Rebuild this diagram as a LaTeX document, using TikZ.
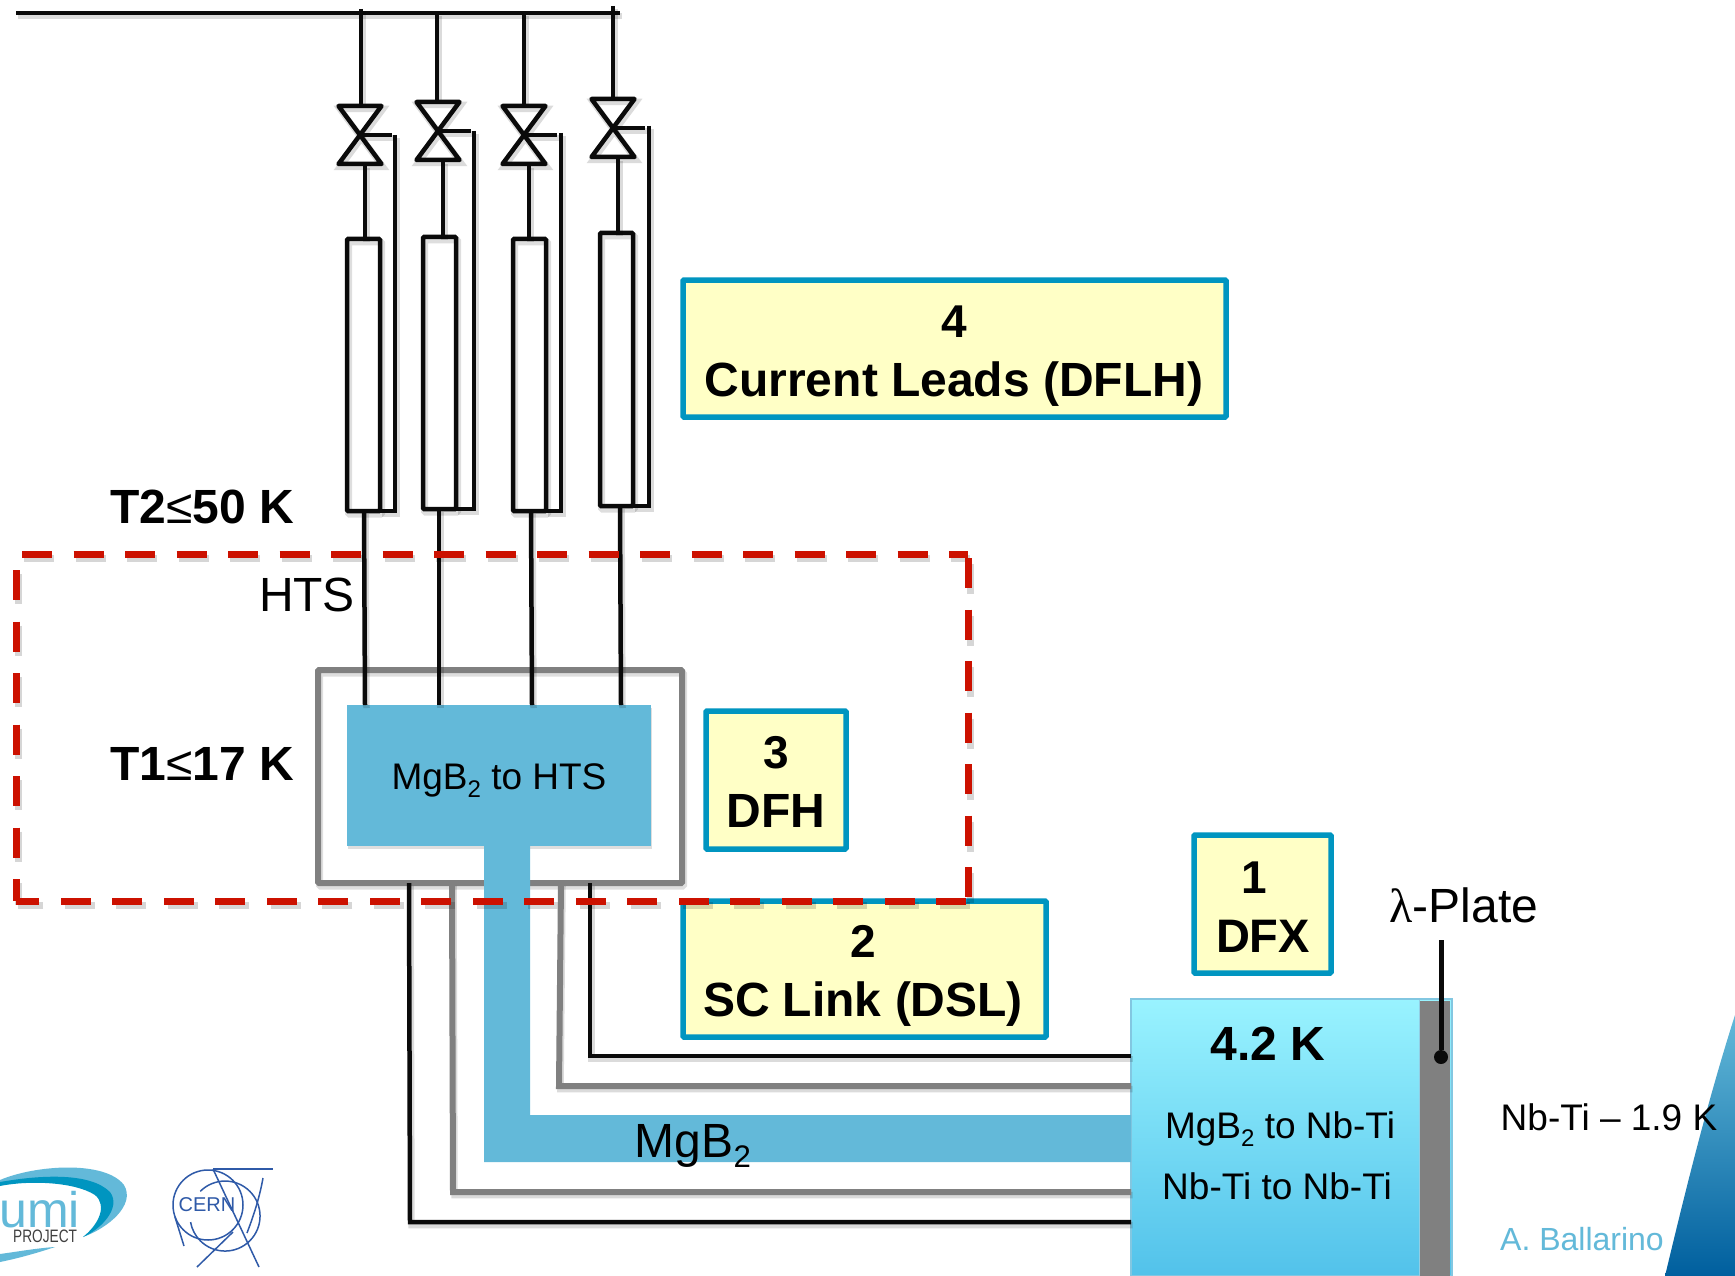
\documentclass[tikz,border=0pt]{standalone}
\usepackage{fontspec}
\usetikzlibrary{calc}
\setmainfont{Liberation Sans}
\newfontfamily\serifsym{Liberation Serif}
\definecolor{wire}{HTML}{0A0A0A}
\definecolor{greyw}{HTML}{808080}
\definecolor{tagblue}{HTML}{0095C0}
\definecolor{paleyellow}{HTML}{FFFFC6}
\definecolor{linkblue}{HTML}{63B9D9}
\definecolor{dashred}{HTML}{CC1100}
\definecolor{cernblue}{HTML}{2F5AA8}
\definecolor{blocktop}{HTML}{99F3FF}
\definecolor{blockbot}{HTML}{52C2EA}
\definecolor{wedgebot}{HTML}{005F9E}
\newcommand{\fs}[1]{\fontsize{#1}{#1}\selectfont}
\newcommand{\lowtwo}{\raisebox{-.22em}{\scalebox{.65}{2}}}
\tikzset{
  x=1pt,y=-1pt,
  softline/.style={preaction={draw=black,opacity=.14,line width=6.5pt,transform canvas={xshift=1.5pt,yshift=-3pt}}},
  softbox/.style={preaction={draw=black,fill=none,opacity=.13,line width=7pt,transform canvas={xshift=1.5pt,yshift=-3pt}}},
  softfill/.style={preaction={fill=black,opacity=.13,transform canvas={xshift=1pt,yshift=-3pt}}},
  bline/.style={draw=wire,line width=4.5pt,softline},
  gline/.style={draw=greyw,line width=6pt,softline},
  leadbox/.style={draw=wire,line width=4.5pt,inner sep=0pt,outer sep=0pt,anchor=north west,rounded corners=1pt},
  valveshape/.style={draw=wire,line width=4.5pt,softline},
  tagbox/.style={draw=tagblue,line width=5.5pt,fill=paleyellow,inner sep=0pt,outer sep=0pt,anchor=north west,rounded corners=1pt},
  lab/.style={anchor=base,inner sep=0pt,text=black},
  blab/.style={lab,font=\bfseries\fs{48}},
  nlab/.style={lab,font=\fs{37}},
  reddash/.style={draw=dashred,line width=7pt,dash pattern=on 30pt off 21.5pt},
  redshadow/.style={draw=black,opacity=.16,line width=7pt,dash pattern=on 30pt off 21.5pt,transform canvas={xshift=2pt,yshift=-4pt}},
  cernline/.style={draw=cernblue,line width=1.5pt},
}
\begin{document}
\begin{tikzpicture}
\useasboundingbox (0,0) rectangle (1735,1276);
\fill[white] (0,0) rectangle (1735,1276);

% --- named points
\coordinate (h0) at (16,13); \coordinate (h1) at (620,13);
\coordinate (t1) at (361,9); \coordinate (t2) at (437,13); \coordinate (t3) at (524,13); \coordinate (t4) at (613,6);
\coordinate (c1) at (360,135); \coordinate (c2) at (438,131); \coordinate (c3) at (524,135); \coordinate (c4) at (613,128);
\coordinate (r1) at (395,135); \coordinate (r2) at (474,131); \coordinate (r3) at (561,133); \coordinate (r4) at (649,126);

% --- current leads
\node[leadbox,softbox,minimum width=33pt,minimum height=272pt] (lead1) at (347,239) {};
\node[leadbox,softbox,minimum width=33pt,minimum height=272pt] (lead2) at (423,237) {};
\node[leadbox,softbox,minimum width=33pt,minimum height=272pt] (lead3) at (513,239) {};
\node[leadbox,softbox,minimum width=33pt,minimum height=273pt] (lead4) at (600,233) {};

% --- header and risers
\draw[bline] (h0) -- (h1);
\draw[bline] (t1) -- (361,105);
\draw[bline] (t2) -- (437,101);
\draw[bline] (t3) -- (524,105);
\draw[bline] (t4) -- (613,98);

% --- valves (bow-ties) with stems
\foreach \c in {c1,c2,c3,c4}{
  \draw[valveshape,line join=round] ($(\c)+(-21.5,-29)$) -- ($(\c)+(21.5,-29)$) -- ($(\c)+(-21.5,29)$) -- ($(\c)+(21.5,29)$) -- cycle;
}
\draw[bline] (c1) -- (392,135);
\draw[bline] (c2) -- (471,131);
\draw[bline] (c3) -- (557,135);
\draw[bline] (c4) -- (645,128);

% --- valve to lead
\draw[bline] (365,165) -- (lead1.north -| 365,0);
\draw[bline] (443,161) -- (lead2.north -| 443,0);
\draw[bline] (529,165) -- (lead3.north -| 529,0);
\draw[bline] (618,158) -- (lead4.north -| 618,0);

% --- return lines
\draw[bline] (r1) -- (r1 |- lead1.south) -- (lead1.south east);
\draw[bline] (r2) -- (r2 |- lead2.south) -- (lead2.south east);
\draw[bline] (r3) -- (r3 |- lead3.south) -- (lead3.south east);
\draw[bline] (r4) -- (r4 |- lead4.south) -- (lead4.south east);

% --- cold box
\node[draw=greyw,line width=6pt,softbox,minimum width=364pt,minimum height=213pt,anchor=north west,inner sep=0pt,outer sep=0pt,rounded corners=1pt] (cryo) at (318,670) {};
\node[fill=linkblue,softfill,minimum width=304pt,minimum height=141pt,anchor=north west,inner sep=0pt,outer sep=0pt] (hts) at (347,705) {};
\node[nlab] (htslabel) at (499,789) {MgB\lowtwo{} to HTS};

% --- HTS lines
\draw[bline] (lead1.south -| 364,0) -- (hts.north -| 365,0);
\draw[bline] (lead2.south -| 439,0) -- (hts.north -| 439,0);
\draw[bline] (lead3.south -| 531,0) -- (hts.north -| 532,0);
\draw[bline] (lead4.south -| 620,0) -- (hts.north -| 621,0);

% --- 4.2 K block
\shade[top color=blocktop,bottom color=blockbot] (1131,999) rectangle (1452,1276);
\node[minimum width=321pt,minimum height=277pt,anchor=north west,inner sep=0pt,outer sep=0pt,draw=linkblue!80,line width=1.5pt] (block) at (1131,999) {};
\fill[greyw] (1420,1001) rectangle (1450,1277);
\draw[draw=linkblue!70,line width=1pt] (1419.5,1000) -- (1419.5,1276);

% --- wires from the cold box to the block
\draw[bline] (cryo.south -| 590,0) -- (590,1056) -- (block.west |- 590,1056);
\draw[gline] (cryo.south -| 561,0) -- (559,1086) -- (block.west |- 559,1086);
\draw[gline] (cryo.south -| 452,0) -- (453,1192) -- (block.west |- 453,1192);
\draw[bline] (cryo.south -| 409,0) -- (410,1222) -- (block.west |- 410,1222);
\fill[linkblue] (hts.south -| 484,0) -- (hts.south -| 530,0) -- (530,1115) -- (block.west |- 530,1115) -- (block.west |- 530,1162) -- (484,1162) -- cycle;

% --- tags
\node[tagbox,minimum width=543pt,minimum height=137pt] (tag4) at (683,280) {};
\node[tagbox,minimum width=140pt,minimum height=138pt] (tag3) at (706,711) {};
\node[tagbox,minimum width=363pt,minimum height=136pt] (tag2) at (683,901) {};
\node[tagbox,minimum width=137pt,minimum height=138pt] (tag1) at (1194,835) {};
\node[blab,font=\bfseries\fs{46}] (n4) at (954,337) {4};
\node[blab] (tx4) at (954,396) {Current Leads (DFLH)};
\node[blab,font=\bfseries\fs{46}] (n3) at (776,768) {3};
\node[blab] (tx3) at (776,827) {DFH};
\node[blab,font=\bfseries\fs{46}] (n2) at (863,957) {2};
\node[blab] (tx2) at (863,1016) {SC Link (DSL)};
\node[blab,font=\bfseries\fs{46}] (n1) at (1254,893) {1};
\node[blab,font=\bfseries\fs{47}] (tx1) at (1263,952) {DFX};

% --- red dashed enclosure
\draw[redshadow] (22,554) -- (968,554);
\draw[redshadow] (968,560) -- (968,901);
\draw[redshadow] (968,901) -- (16,901);
\draw[redshadow] (16,570) -- (16,901);
\draw[reddash] (22,554) -- (968,554);
\draw[reddash] (968,558) -- (968,901);
\draw[reddash] (966,901) -- (16,901);
\draw[reddash] (16,570) -- (16,901);

% --- lambda plate
\node[circle,fill=wire,minimum size=14pt,inner sep=0pt] (dot) at (1441,1057) {};
\coordinate (lp) at (1441,940);
\draw[draw=wire,line width=5pt] (lp) -- (dot);

% --- corner wedge
\shade[top color=linkblue,bottom color=wedgebot] (1735,1015) .. controls (1708,1100) and (1688,1180) .. (1665,1276) -- (1735,1276) -- cycle;

% --- texts
\node[blab] (t2k) at (202,523) {T2{\mdseries ≤}50 K};
\node[blab] (t1k) at (202,780) {T1{\mdseries ≤}17 K};
\node[lab,font=\fs{48}] (hts2) at (307,611) {HTS};
\node[lab,font=\fs{48}] (mgb) at (693,1157) {MgB\lowtwo};
\node[lab,font=\fs{48}] (lam) at (1464,922) {{\serifsym λ}-Plate};
\node[blab] (k42) at (1268,1060) {4.2 K};
\node[nlab] (m1) at (1280,1138) {MgB\lowtwo{} to Nb-Ti};
\node[nlab] (m2) at (1277,1199) {Nb-Ti to Nb-Ti};
\node[nlab] (nb19) at (1609,1130) {Nb-Ti -- 1.9 K};
\node[lab,font=\fs{32},text=linkblue] (auth) at (1582,1250) {A. Ballarino};

% --- HiLumi logo
\fill[linkblue] (0,1180) .. controls (35,1165) and (105,1160) .. (124,1185) .. controls (136,1205) and (108,1228) .. (83,1237) .. controls (100,1225) and (118,1203) .. (100,1190) .. controls (75,1175) and (30,1178) .. (0,1184) -- cycle;
\fill[tagblue] (0,1182) .. controls (40,1175) and (90,1172) .. (110,1192) .. controls (122,1208) and (100,1230) .. (83,1237) .. controls (98,1225) and (108,1206) .. (95,1195) .. controls (75,1182) and (30,1180) .. (0,1186) -- cycle;
\fill[linkblue] (0,1262) .. controls (20,1258) and (40,1252) .. (55,1247) .. controls (38,1248) and (15,1252) .. (0,1254) -- cycle;
\node[anchor=base east,inner sep=0pt,font=\fs{50},text=linkblue] (umi) at (80,1227) {umi};
\node[anchor=base west,inner sep=0pt,font=\fs{18},text=black!75] (proj) at (13,1242) {\scalebox{.76}[1]{PROJECT}};

% --- CERN logo
\node[inner sep=0pt,font=\fs{20},text=cernblue,anchor=base] (cern) at (207,1211) {CERN};
\draw[cernline] (208,1205) circle[radius=35];
\draw[cernline] (200.3,1191.3) arc[start angle=225,end angle=530,radius=35];
\draw[cernline] (213,1169) -- (273,1169);
\draw[cernline] (263,1178) .. controls (260,1195) and (255,1212) .. (247,1233);
\draw[cernline] (213,1169) -- (259,1267);
\draw[cernline] (233,1232) -- (197,1267);
\draw[cernline] (175,1217) -- (184,1246);
\end{tikzpicture}
\end{document}
